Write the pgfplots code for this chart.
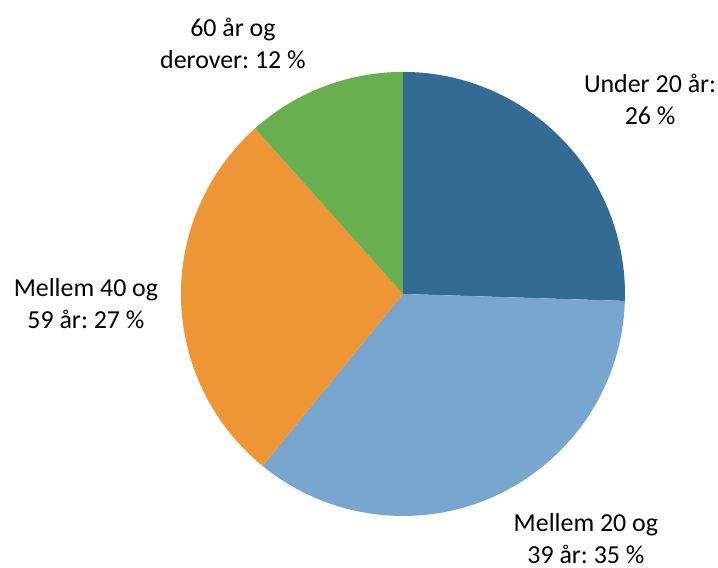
\documentclass[border=0pt]{standalone}
\usepackage{fontspec}
\setmainfont{Carlito}
\usepackage{pgfplots}
\usepackage{pgfplotstable}
\pgfplotsset{compat=1.18}

\definecolor{under20}{RGB}{51,107,146}
\definecolor{mid2039}{RGB}{120,166,207}
\definecolor{mid4059}{RGB}{238,149,54}
\definecolor{over60}{RGB}{105,174,79}

% age groups (shares in %), clockwise from 12 o'clock
\pgfplotstableread[col sep=comma]{
value,colour
25.5,under20
35.4,mid2039
27.5,mid4059
11.6,over60
}\piedata

\begin{document}
\frenchspacing
\begin{tikzpicture}
\begin{axis}[
    name=pie,
    hide axis,
    clip=false,
    x=222bp, y=222bp,
    xmin=-1.815, xmax=1.419,
    ymin=-1.234, ymax=1.324,
]
\pgfplotstablegetrowsof{\piedata}
\pgfmathtruncatemacro\lastrow{\pgfplotsretval-1}
\def\startangle{90}
\pgfplotsforeachungrouped \i in {0,...,\lastrow}{
    \pgfplotstablegetelem{\i}{value}\of\piedata \let\v\pgfplotsretval
    \pgfplotstablegetelem{\i}{colour}\of\piedata \let\c\pgfplotsretval
    \pgfmathsetmacro\endangle{\startangle-3.6*\v}
    \pgfmathsetmacro\sx{cos(\startangle)}
    \pgfmathsetmacro\sy{sin(\startangle)}
    \edef\temp{\noexpand\fill[\c] (axis cs:0,0) -- (axis cs:\sx,\sy)
        arc[start angle=\startangle, end angle=\endangle, radius=222bp] -- cycle;}
    \temp
    \global\let\startangle\endangle
}
\tikzset{lbl/.style={align=center, font=\fontsize{26}{32}\selectfont, inner sep=0pt}}
\node[lbl] at (axis cs:-0.766,1.128) {60 år og\\derover: 12 \%};
\node[lbl] at (axis cs:1.113,0.878) {Under 20 år:\\26 \%};
\node[lbl] at (axis cs:-1.428,-0.045) {Mellem 40 og\\59 år: 27 \%};
\node[lbl] at (axis cs:0.824,-1.102) {Mellem 20 og\\39 år: 35 \%};
\end{axis}
\pgfresetboundingbox
\path (pie.south west) rectangle (pie.north east);
\end{tikzpicture}
\end{document}
